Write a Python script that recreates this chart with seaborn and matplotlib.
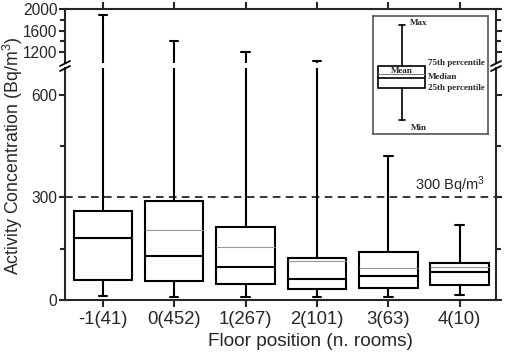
import numpy as np
import pandas as pd
import matplotlib
matplotlib.use("Agg")
import matplotlib.pyplot as plt
import seaborn as sns
from matplotlib.lines import Line2D
from matplotlib.patches import Rectangle

# Datos (Bq/m3)
floors = ["-1(41)", "0(452)", "1(267)", "2(101)", "3(63)", "4(10)"]
mins = [13, 10, 10, 8, 8, 14]
q1s = [57, 56, 47, 31, 34, 43]
medians = [182, 128, 95, 61, 70, 83]
q3s = [259, 290, 213, 122, 139, 109]
maxs = [1895, 1416, 1208, 1035, 422, 219]
means = [182, 206, 154, 115, 93, 97]
limit = 300

# cinco puntos por planta: con whis=(0, 100) seaborn dibuja min/q1/mediana/q3/max
rows = []
for f, a, b, c, d, e in zip(floors, mins, q1s, medians, q3s, maxs):
    for v in (a, b, c, d, e):
        rows.append({"floor": f, "value": v})
df = pd.DataFrame(rows)

sns.set_style("ticks")
plt.rcParams["font.family"] = ["Liberation Sans", "DejaVu Sans"]
plt.rcParams["mathtext.fontset"] = "custom"
plt.rcParams["mathtext.rm"] = "Liberation Sans"
plt.rcParams["mathtext.it"] = "Liberation Sans"

W_PX, H_PX = 505, 352
fig = plt.figure(figsize=(W_PX / 100, H_PX / 100), dpi=100)
L, W = 65 / W_PX, 431 / W_PX
ax_top = fig.add_axes([L, 1 - 63 / H_PX, W, 54 / H_PX])
ax_bot = fig.add_axes([L, 1 - 300 / H_PX, W, 232 / H_PX])

pos = np.arange(len(floors))
for ax in (ax_top, ax_bot):
    sns.boxplot(data=df, x="floor", y="value", order=floors, ax=ax,
                whis=(0, 100), width=0.82, color="white", linecolor="black",
                linewidth=1.5, showfliers=False, capwidths=0.12,
                medianprops={"zorder": 4})
    ax.hlines(means, pos - 0.41, pos + 0.41, color="#999999", lw=0.8, zorder=3)
    ax.set_xlim(-0.53, 5.51)
    ax.set_xlabel("")
    ax.set_ylabel("")
    for s in ax.spines.values():
        s.set_linewidth(1.5)
    ax.yaxis.set_ticks_position("both")
    ax.tick_params(axis="y", which="major", direction="out", length=4, width=1.5,
                   labelsize=11.2, pad=1.5, labelright=False)
    ax.tick_params(axis="y", which="minor", direction="out", length=3.5, width=1.5)

# segmento superior
ax_top.set_ylim(1000, 2000)
ax_top.set_yticks([1200, 1600, 2000])
ax_top.set_yticks([1400, 1800], minor=True)
ax_top.spines["bottom"].set_visible(False)
ax_top.xaxis.tick_top()
ax_top.tick_params(axis="x", direction="out", length=5, width=1.5,
                   labeltop=False, labelbottom=False, bottom=False)

# segmento inferior
ax_bot.set_ylim(0, 678)
ax_bot.set_yticks([0, 300, 600])
ax_bot.set_yticks([150, 450], minor=True)
ax_bot.spines["top"].set_visible(False)
ax_bot.tick_params(axis="x", direction="out", length=5, width=1.5,
                   labelsize=13.3, pad=3, top=False)
ax_bot.axhline(limit, color="black", lw=1.1, ls=(0, (5, 3.5)), zorder=1)
ax_bot.text(4.38, limit + 3, "300 Bq/m$^3$", fontsize=10.5, ha="left", va="bottom")

fig.text(13 / W_PX, 1 - 156 / H_PX, "Activity Concentration (Bq/m$^3$)",
         rotation=90, ha="center", va="center", fontsize=12.8)
fig.text(310 / W_PX, 1 - 341 / H_PX, "Floor position (n. rooms)",
         ha="center", va="center", fontsize=13.7)

# marcas de corte del eje
for xp in (65, 496):
    for yp in (63.5, 68.5):
        fig.add_artist(Line2D([(xp - 5) / W_PX, (xp + 5) / W_PX],
                              [1 - (yp + 2.5) / H_PX, 1 - (yp - 2.5) / H_PX],
                              transform=fig.transFigure, color="black", lw=1.3))

# leyenda esquematica
key = fig.add_axes([373 / W_PX, 1 - 134 / H_PX, 115 / W_PX, 118 / H_PX])
key.set_xlim(0, 1)
key.set_ylim(0, 1)
key.set_xticks([])
key.set_yticks([])
key.set_facecolor("white")
for s in key.spines.values():
    s.set_color("#555555")
    s.set_linewidth(1.2)
key.add_patch(Rectangle((0.043, 0.39), 0.409, 0.186, fill=False, lw=1.2, ec="black"))
key.plot([0.252, 0.252], [0.576, 0.924], color="black", lw=1.2)
key.plot([0.252, 0.252], [0.119, 0.39], color="black", lw=1.2)
key.plot([0.222, 0.282], [0.924, 0.924], color="black", lw=1.2)
key.plot([0.222, 0.282], [0.119, 0.119], color="black", lw=1.2)
key.plot([0.043, 0.452], [0.477, 0.477], color="black", lw=1.2)
key.plot([0.043, 0.452], [0.508, 0.508], color="#777777", lw=0.7)
kf = dict(family=["Liberation Serif", "DejaVu Serif"], weight="bold", fontsize=6.5, va="center")
key.text(0.32, 0.94, "Max", ha="left", **kf)
key.text(0.478, 0.605, "75th percentile", ha="left", **kf)
key.text(0.478, 0.486, "Median", ha="left", **kf)
key.text(0.478, 0.393, "25th percentile", ha="left", **kf)
key.text(0.25, 0.535, "Mean", ha="center", **kf)
key.text(0.33, 0.055, "Min", ha="left", **kf)

plt.savefig("out.png", dpi=100)
plt.close()
